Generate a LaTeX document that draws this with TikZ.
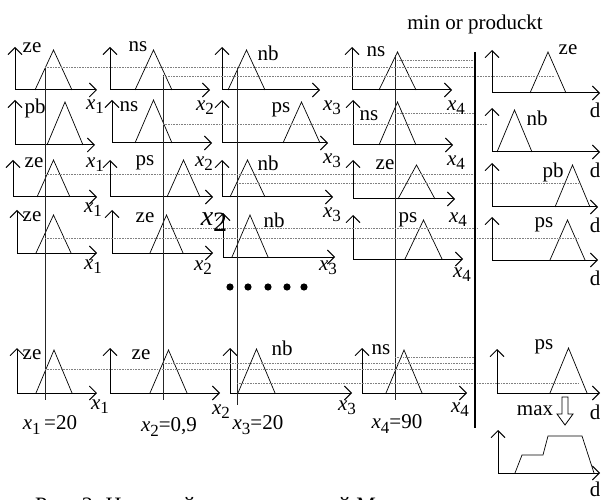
\documentclass[tikz,border=0pt]{standalone}
\usepackage{fontspec}
\setmainfont{Liberation Serif}
\usepackage{tikz}
\usetikzlibrary{arrows.meta}
\newcommand{\xv}[1]{\textit{x}\raisebox{-0.45ex}{\fontsize{17}{17}\selectfont #1}}
\tikzset{
    axisline/.style={-{Straight Barb[length=7pt,width=14pt,line width=0.9pt]}, line width=1pt},
    mfline/.style={line width=0.7pt},
    cutline/.style={line width=0.7pt, black!85},
    levelline/.style={densely dotted, line width=0.6pt, black!50},
    bigline/.style={line width=2.2pt},
    lbl/.style={font=\fontsize{21}{23}\selectfont, inner sep=0pt},
}
\begin{document}
\begin{tikzpicture}[x=1pt, y=-1pt]
    \clip (0,0) rectangle (603,500);
    % membership panels: origin x / axis y / end x / top y / left / right / apex y
    \foreach \ox/\ay/\ex/\ty/\tl/\tr/\tp in {
        15/90/97/47/35/72/50, 110/90/210/47/135/172/50, 222/90/320/47/228/265/50,
        352/90/452/47/379/416/52, 492/93/600/50/530/566/52,
        15/145/95/100/47/83/102, 112/143/212/100/135/172/100, 222/143/328/100/283/320/102,
        353/145/453/100/379/416/102, 492/152/600/108/497/532/110,
        13/197/97/160/37/70/160, 110/197/213/160/167/200/160, 222/197/333/160/230/265/160,
        353/199/455/160/398/435/165, 492/207/598/163/555/590/165,
        17/253/97/210/36/71/215, 112/253/213/210/150/183/215, 223/257/335/213/232/268/215,
        353/259/463/215/405/442/220, 492/260/598/217/550/585/220,
        17/393/97/348/36/72/350, 110/393/220/348/150/187/350, 230/393/352/348/238/275/349,
        362/393/467/348/386/422/350, 497/393/600/349/550/587/348} {
        \draw[axisline] (\ox,\ay) -- (\ox,\ty);
        \draw[axisline] (\ox,\ay) -- (\ex,\ay);
        \draw[mfline] (\tl,\ay) -- ({(\tl+\tr)/2},\tp) -- (\tr,\ay);
    }
    % aggregated result
    \draw[axisline] (498,473) -- (498,430);
    \draw[axisline] (498,473) -- (600,473);
    \draw[mfline] (515,473) -- (522,455) -- (543,455) -- (548,436) -- (582,436) -- (594,473);
    % crisp inputs
    \foreach \cx/\ya/\yb in {45/67/400, 163/75/400, 237/67/405, 395/55/400}
        \draw[cutline] (\cx,\ya) -- (\cx,\yb);
    % firing levels
    \foreach \ly/\xa/\xb in {60/397/475, 67/45/475, 76/163/555,
        113/395/475, 124/163/487, 174/45/475, 183/237/578,
        228/163/477, 238/45/578, 357/395/475, 363/163/475,
        369/45/475, 383/237/578}
        \draw[levelline] (\xa,\ly) -- (\xb,\ly);
    \draw[bigline] (475,52) -- (475,428);
    % term labels
    \node[lbl] (t11) at (32,48) {ze};
    \node[lbl] (t12) at (138,47) {ns};
    \node[lbl] (t13) at (268,53) {nb};
    \node[lbl] (t14) at (376,52) {ns};
    \node[lbl] (t15) at (568,50) {ze};
    \node[lbl] (t21) at (35,108) {pb};
    \node[lbl] (t22) at (129,107) {ns};
    \node[lbl] (t23) at (281,110) {ps};
    \node[lbl] (t24) at (369,116) {ns};
    \node[lbl] (t25) at (537,118) {nb};
    \node[lbl] (t31) at (34,163) {ze};
    \node[lbl] (t32) at (145,163) {ps};
    \node[lbl] (t33) at (268,163) {nb};
    \node[lbl] (t34) at (385,165) {ze};
    \node[lbl] (t35) at (553,172) {pb};
    \node[lbl] (t41) at (32,217) {ze};
    \node[lbl] (t42) at (145,218) {ze};
    \node[lbl] (t43) at (274,220) {nb};
    \node[lbl] (t44) at (408,220) {ps};
    \node[lbl] (t45) at (544,225) {ps};
    \node[lbl] (t51) at (32,355) {ze};
    \node[lbl] (t52) at (141,355) {ze};
    \node[lbl] (t53) at (282,348) {nb};
    \node[lbl] (t54) at (381,350) {ns};
    \node[lbl] (t55) at (544,347) {ps};
    % axis labels
    \node[lbl] (a11) at (95,107) {\xv{1}};
    \node[lbl] (a12) at (205,108) {\xv{2}};
    \node[lbl] (a13) at (332,108) {\xv{3}};
    \node[lbl] (a14) at (456,108) {\xv{4}};
    \node[lbl] (a15) at (595,110) {d};
    \node[lbl] (a21) at (95,165) {\xv{1}};
    \node[lbl] (a22) at (204,164) {\xv{2}};
    \node[lbl] (a23) at (332,161) {\xv{3}};
    \node[lbl] (a24) at (456,163) {\xv{4}};
    \node[lbl] (a25) at (595,170) {d};
    \node[lbl] (a31) at (93,210) {\xv{1}};
    \node[lbl, font=\fontsize{28}{30}\selectfont] (a32) at (214,222) {\textit{x}\raisebox{-0.45ex}{2}};
    \node[lbl] (a33) at (332,215) {\xv{3}};
    \node[lbl] (a34) at (458,220) {\xv{4}};
    \node[lbl] (a35) at (595,225) {d};
    \node[lbl] (a41) at (93,267) {\xv{1}};
    \node[lbl] (a42) at (203,268) {\xv{2}};
    \node[lbl] (a43) at (328,268) {\xv{3}};
    \node[lbl] (a44) at (462,275) {\xv{4}};
    \node[lbl] (a45) at (595,278) {d};
    \node[lbl] (a51) at (100,407) {\xv{1}};
    \node[lbl] (a52) at (221,412) {\xv{2}};
    \node[lbl] (a53) at (347,408) {\xv{3}};
    \node[lbl] (a54) at (460,410) {\xv{4}};
    \node[lbl] (a55) at (595,412) {d};
    \node[lbl] (a65) at (595,489) {d};
    % input values
    \node[lbl] (v1) at (50,425) {\xv{1}\,=20};
    \node[lbl] (v2) at (169,427) {\xv{2}=0,9};
    \node[lbl] (v3) at (258,425) {\xv{3}=20};
    \node[lbl] (v4) at (397,424) {\xv{4}=90};
    % ellipsis
    \foreach \dx in {230,248,268,287,304}
        \fill (\dx,287) circle (3.6pt);
    \node[lbl] (oper) at (475,24) {min or produckt};
    \node[lbl] (maxop) at (535,411) {max};
    \draw[line width=0.8pt] (562,397) -- (568,397) -- (568,414) -- (573,414)
        -- (565,425) -- (557,414) -- (562,414) -- cycle;
    \node[lbl, anchor=base west, font=\fontsize{22}{24}\selectfont] (caption) at (35,512)
        {Рис. 2. Нечеткий вывод системой Мамдани};
\end{tikzpicture}
\end{document}
